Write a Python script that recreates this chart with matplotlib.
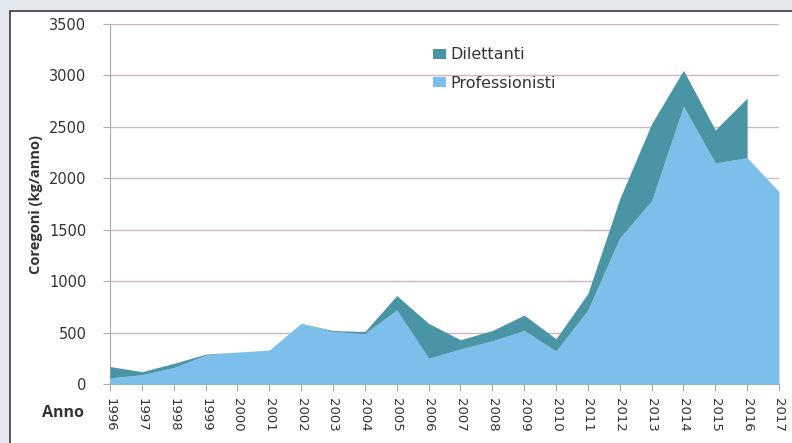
import numpy as np
import matplotlib.pyplot as plt
from matplotlib.patches import Rectangle

# dati (kg/anno)
anni = list(range(1996, 2018))
professionisti = [60, 90, 160, 280, 310, 330, 590, 510, 490, 720, 250, 340,
                  420, 520, 320, 720, 1420, 1780, 2700, 2150, 2200, 1870]
# dilettanti: nessun dato nel 2017
dilettanti = [110, 30, 40, 10, 0, 0, 0, 10, 20, 140, 340, 90,
              100, 150, 120, 160, 380, 750, 350, 320, 580]

col_dil = "#4a95a5"
col_pro = "#7cbfea"
col_txt = "#333333"

plt.rcParams['font.family'] = ['DejaVu Sans']

fig = plt.figure(figsize=(7.92, 4.43), dpi=100)
fig.patch.set_facecolor("#e2e8ec")
# riquadro bianco
fig.patches.append(Rectangle((10 / 792, -0.1), 1.0, 0.975 + 0.1, transform=fig.transFigure,
                             facecolor="white", edgecolor="#3a3a3a", linewidth=1.2, zorder=-5))

ax = fig.add_axes([110 / 792, 1 - 384 / 443, 669 / 792, 360 / 443])
ax.set_facecolor("white")

x = np.array(anni)
pro = np.array(professionisti)
n = len(dilettanti)
tot = pro[:n] + np.array(dilettanti)

ax.fill_between(x, 0, pro, color=col_pro, linewidth=0, zorder=3, label="Professionisti")
ax.fill_between(x[:n], pro[:n], tot, color=col_dil, linewidth=0, zorder=3, label="Dilettanti")

ax.set_xlim(1996, 2017)
ax.set_ylim(0, 3500)
ax.set_yticks(range(0, 3501, 500))
ax.set_xticks(anni)
ax.set_xticklabels([str(a) for a in anni], rotation=270, fontsize=9.5, color=col_txt)
ax.tick_params(axis="y", labelsize=10.5, labelcolor=col_txt, length=5, color="#aaaaaa", pad=12)
ax.tick_params(axis="x", length=5, color="#aaaaaa", pad=5)

ax.grid(axis="y", color="#cfb5bd", linewidth=1, zorder=1)
for s in ["top", "right"]:
    ax.spines[s].set_visible(False)
ax.spines["left"].set_color("#aaaaaa")
ax.spines["bottom"].set_color("#aaaaaa")

ax.set_ylabel("Coregoni (kg/anno)", fontsize=10.5, fontweight="bold", color=col_txt,
              family=["Open Sans", "DejaVu Sans"])
ax.yaxis.set_label_coords((43 - 110) / 669, 0.5)
fig.text(63 / 792, 1 - 413 / 443, "Anno", fontsize=11.5, fontweight="bold", color=col_txt,
         family=["Open Sans", "DejaVu Sans"], ha="center", va="center")

h, l = ax.get_legend_handles_labels()
leg = ax.legend(h[::-1], l[::-1], loc="upper left", bbox_to_anchor=(0.483, 0.935),
                frameon=False, fontsize=11.5, handlelength=0.8, handleheight=0.6,
                handletextpad=0.25, labelspacing=0.85, borderpad=0, borderaxespad=0)
for t in leg.get_texts():
    t.set_color(col_txt)

fig.savefig("out.png", dpi=100, facecolor=fig.get_facecolor())
